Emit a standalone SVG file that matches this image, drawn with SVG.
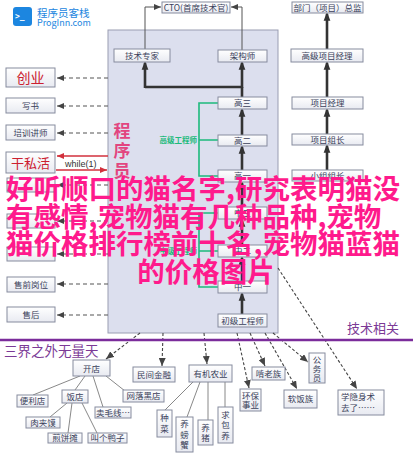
<svg xmlns="http://www.w3.org/2000/svg" width="415" height="454" viewBox="0 0 415 454">
<defs>
<linearGradient id="bg" x1="0" y1="0" x2="0" y2="1"><stop offset="0" stop-color="#ffffff"/><stop offset="1" stop-color="#e8eaf1"/></linearGradient>
<marker id="thick" markerWidth="9" markerHeight="12" refX="9" refY="4.5" orient="auto" markerUnits="userSpaceOnUse" viewBox="0 0 12 9"><path d="M0,0 L12,4.5 L0,9 z" fill="#333"/></marker>
<marker id="thin" markerWidth="7" markerHeight="6" refX="7" refY="3" orient="auto" markerUnits="userSpaceOnUse" viewBox="0 0 7 6"><path d="M0,0 L7,3 L0,6 z" fill="#444"/></marker>
<marker id="red" markerWidth="7" markerHeight="6" refX="7" refY="3" orient="auto" markerUnits="userSpaceOnUse" viewBox="0 0 7 6"><path d="M0,0 L7,3 L0,6 z" fill="#d2303c"/></marker>
<marker id="dash" markerWidth="8" markerHeight="7" refX="8" refY="3.5" orient="auto" markerUnits="userSpaceOnUse" viewBox="0 0 8 7"><path d="M0,0 L8,3.5 L0,7 z" fill="#444"/></marker>
</defs>
<style>
text{font-family:"Noto Sans CJK SC","Noto Sans",sans-serif;}
.b{fill:url(#bg);stroke:#868b9e;stroke-width:1;}
.t{font-size:8.5px;fill:#3a3f5a;text-anchor:middle;}
.tk{fill:none;stroke:#333;stroke-width:2.6;}
.dl{fill:none;stroke:#555;stroke-width:1.1;stroke-dasharray:4,3;marker-end:url(#thin);}
.dd{fill:none;stroke:#444;stroke-width:1.1;stroke-dasharray:3,2;marker-end:url(#dash);}
.sl{fill:none;stroke:#7a7a7a;stroke-width:0.9;}
.gr{fill:none;stroke:#1dba7c;stroke-width:1.6;}
.gt{font-size:7.5px;fill:#1dba7c;font-weight:bold;text-anchor:end;}
.pg{font-size:17px;fill:#e2457f;font-weight:bold;text-anchor:middle;}
.ov{font-size:27.5px;fill:#ff1a8c;font-weight:bold;}
</style>
<rect width="415" height="454" fill="#ffffff"/>

<g id="logo">
<rect x="13" y="7" width="19" height="19" rx="3" fill="#1c86e0"/>
<text x="15" y="19" font-size="8" font-weight="bold" fill="#ffffff" style="font-family:'DejaVu Sans Mono',monospace">&gt;_</text>
<text x="37" y="17" font-size="10.5" fill="#1c86e0">程序员客栈</text>
<text x="37" y="26" font-size="9" fill="#1c86e0">ProgInn.com</text>
</g>

<g id="panel"><rect x="108" y="30" width="170" height="303" fill="#dcdfee" stroke="#9a9db2" stroke-width="1"/></g>

<g id="connectors">
<path d="M145,49 V7 H161" fill="none" stroke="#555" stroke-width="1" marker-end="url(#thin)"/>
<path d="M242,50 V7 H231" fill="none" stroke="#555" stroke-width="1" marker-end="url(#thin)"/>
<path class="tk" d="M242,97 V87 M145,87 H242"/>
<path class="tk" d="M145,88 V63" marker-end="url(#thick)"/>
<path class="tk" d="M242,88 V63" marker-end="url(#thick)"/>
<path class="tk" d="M242,135 V110" marker-end="url(#thick)"/>
<path class="tk" d="M242,170 V147" marker-end="url(#thick)"/>
<path class="tk" d="M242,207 V183" marker-end="url(#thick)"/>
<path class="tk" d="M242,245 V220" marker-end="url(#thick)"/>
<path class="tk" d="M242,281 V258" marker-end="url(#thick)"/>
<path class="tk" d="M242,314 V294" marker-end="url(#thick)"/>
<path class="tk" d="M327,49 V14" marker-end="url(#thick)"/>
<path class="tk" d="M327,97 V63" marker-end="url(#thick)"/>
<path class="tk" d="M327,134 V110" marker-end="url(#thick)"/>
<path class="tk" d="M327,170 V146" marker-end="url(#thick)"/>
<path class="gr" d="M218,103 H199 V176 H218 M199,140 H218"/>
<path class="gr" d="M218,213 H199 V287 H218 M199,251 H218"/>
<path class="dl" d="M108,78 H57"/>
<path class="dl" d="M108,106 H57"/>
<path class="dl" d="M108,133 H57"/>
<path class="dl" d="M108,185 H57"/>
<path class="dl" d="M108,221 H57"/>
<path class="dl" d="M108,254 H57"/>
<path class="dl" d="M108,284 H57"/>
<path class="dl" d="M108,315 H57"/>
<path d="M108,156 H57" fill="none" stroke="#d2303c" stroke-width="1.4" marker-end="url(#red)"/>
<path d="M56,170 H107" fill="none" stroke="#d2303c" stroke-width="1.4" marker-end="url(#red)"/>
<path class="sl" d="M80,376 L33,395 M85,376 L75,390 M93,376 L103,407 M106,376 L125,391"/>
<path class="sl" d="M67,403 L50,417 M72,403 L68,433 M82,403 L97,433"/>
<path class="sl" d="M193,382 L165,410 M200,382 L187,417 M208,382 L208,420 M225,382 L225,407"/>
<path class="dd" d="M140,333 L106,359"/>
<path class="dd" d="M163,333 L162,366"/>
<path class="dd" d="M204,333 L207,364"/>
<path class="dd" d="M237,333 L249,388"/>
<path class="dd" d="M250,333 L265,366"/>
<path class="dd" d="M273,333 L308,362"/>
<path class="dd" d="M265,333 L297,389"/>
<path class="dd" d="M278,268 L357,389"/>
</g>

<g id="cto"><rect class="b" x="162" y="2" width="68" height="11"/><text class="t" x="196" y="10.5" font-size="8">CTO(首席技术官)</text></g>
<g id="director"><rect class="b" x="292" y="2" width="71" height="11"/><text class="t" x="327.5" y="10.5">部门（项目）总监</text></g>
<g id="expert"><rect class="b" x="114" y="49" width="56" height="13"/><text class="t" x="142" y="58.5">技术专家</text></g>
<g id="architect"><rect class="b" x="218" y="50" width="49" height="12"/><text class="t" x="242.5" y="59">架构师</text></g>
<g id="spm"><rect class="b" x="291" y="49" width="72" height="13"/><text class="t" x="327" y="58.5">高级项目经理</text></g>
<g id="g3"><rect class="b" x="218" y="97" width="49" height="12"/><text class="t" x="242.5" y="106">高三</text></g>
<g id="pm"><rect class="b" x="292" y="97" width="71" height="12"/><text class="t" x="327.5" y="106">项目经理</text></g>
<g id="g2"><rect class="b" x="218" y="135" width="49" height="11"/><text class="t" x="242.5" y="143.5">高二</text></g>
<g id="pl"><rect class="b" x="292" y="134" width="71" height="11"/><text class="t" x="327.5" y="142.5">项目组长</text></g>
<g id="g1"><rect class="b" x="218" y="170" width="49" height="12"/><text class="t" x="242.5" y="179">高一</text></g>
<g id="tl"><rect class="b" x="292" y="170" width="71" height="11"/><text class="t" x="327.5" y="178.5">小组组长</text></g>
<g id="m3"><rect class="b" x="218" y="207" width="49" height="12"/><text class="t" x="242.5" y="216">中三</text></g>
<g id="m2"><rect class="b" x="218" y="245" width="49" height="12"/><text class="t" x="242.5" y="254">中二</text></g>
<g id="m1"><rect class="b" x="218" y="281" width="49" height="12"/><text class="t" x="242.5" y="290">中一</text></g>
<g id="junior"><rect class="b" x="218" y="314" width="49" height="13"/><text class="t" x="242.5" y="323.5">初级工程师</text></g>
<g id="senior-label"><text class="gt" x="197" y="142.5">高级工程师</text></g>
<g id="mid-label"><text class="gt" x="197" y="253.5">中级工程师</text></g>
<g id="prog"><text class="pg" x="122" y="137">程</text><text class="pg" x="122" y="157">序</text><text class="pg" x="122" y="177">员</text></g>

<g id="startup"><rect class="b" x="6" y="68" width="49" height="19"/><text x="30.5" y="82.5" font-size="14" fill="#cc2030" text-anchor="middle">创业</text></g>
<g id="book"><rect class="b" x="6" y="98" width="49" height="15"/><text class="t" x="30.5" y="108.5">写书</text></g>
<g id="trainer"><rect class="b" x="6" y="125" width="49" height="15"/><text class="t" x="30.5" y="135.5">培训讲师</text></g>
<g id="side"><rect class="b" x="6" y="152" width="49" height="21"/><text x="30.5" y="167.5" font-size="13" fill="#cc2030" text-anchor="middle">干私活</text></g>
<g id="while"><text x="65" y="167" font-size="9" fill="#333" style="font-family:'Liberation Sans',sans-serif">while(1)</text></g>
<g id="left-a"><rect class="b" x="7" y="178" width="48" height="14"/></g>
<g id="left-b"><rect class="b" x="7" y="214" width="48" height="14"/></g>
<g id="left-c"><rect class="b" x="7" y="247" width="48" height="14"/></g>
<g id="presale"><rect class="b" x="7" y="277" width="48" height="15"/><text class="t" x="31" y="287.5">售前岗位</text></g>
<g id="aftersale"><rect class="b" x="7" y="307" width="48" height="15"/><text class="t" x="31" y="317.5">售后</text></g>

<g id="divider"><line x1="0" y1="340" x2="413" y2="340" stroke="#7b2c9b" stroke-width="2.5"/>
<text x="4" y="356" font-size="13.5" fill="#7b3a96">三界之外无量天</text>
<text x="347" y="333" font-size="13" fill="#7b3a96">技术相关</text></g>

<g id="shop"><rect class="b" x="73" y="360" width="37" height="16"/><text class="t" x="91.5" y="371.5">开店</text></g>
<g id="conv"><rect class="b" x="17" y="395" width="31" height="12"/><text class="t" x="32.5" y="404">便利店</text></g>
<g id="rest"><rect class="b" x="62" y="390" width="26" height="13"/><text class="t" x="75" y="399.5">饭店</text></g>
<g id="rjm"><rect class="b" x="26" y="417" width="34" height="11"/><text class="t" x="43" y="425.5">肉夹馍</text></g>
<g id="jbt"><rect class="b" x="48" y="433" width="34" height="10"/><text class="t" x="65" y="441">煎饼摊</text></g>
<g id="duck"><rect class="b" x="88" y="433" width="39" height="10"/><text class="t" x="107.5" y="441">叫个鸭子</text></g>
<g id="yarn"><rect class="b" x="95" y="407" width="36" height="11"/><text class="t" x="113" y="415.5">卖毛线…</text></g>
<g id="blackshop"><rect class="b" x="123" y="390" width="41" height="12"/><text class="t" x="143.5" y="399">网落黑店</text></g>
<g id="finance"><rect class="b" x="133" y="367" width="42" height="15"/><text class="t" x="154" y="377.5">民间金融</text></g>
<g id="organic"><rect class="b" x="189" y="365" width="43" height="17"/><text class="t" x="210.5" y="376.5">有机农业</text></g>
<g id="veg"><rect class="b" x="157" y="410" width="15" height="27"/><text class="t" x="164.5" y="421">种</text><text class="t" x="164.5" y="432">菜</text></g>
<g id="crab"><rect class="b" x="176" y="417" width="17" height="35"/><text class="t" x="184.5" y="427">养</text><text class="t" x="184.5" y="437.5">螃</text><text class="t" x="184.5" y="448">蟹</text></g>
<g id="pig"><rect class="b" x="198" y="420" width="15" height="25"/><text class="t" x="205.5" y="431">养</text><text class="t" x="205.5" y="441">猪</text></g>
<g id="kept"><rect class="b" x="218" y="407" width="15" height="36"/><text class="t" x="225.5" y="417.5">求</text><text class="t" x="225.5" y="428">包</text><text class="t" x="225.5" y="438.5">养</text></g>
<g id="env"><rect class="b" x="240" y="389" width="21" height="22"/><text class="t" x="250.5" y="398.5">环保</text><text class="t" x="250.5" y="408">事业</text></g>
<g id="parents"><rect class="b" x="252" y="367" width="33" height="13"/><text class="t" x="268.5" y="376.5">啃老族</text></g>
<g id="civil"><rect class="b" x="309" y="353" width="16" height="30"/><text class="t" x="317" y="362.5">公</text><text class="t" x="317" y="372">务</text><text class="t" x="317" y="381">员</text></g>
<g id="softrice"><rect class="b" x="284" y="390" width="33" height="18"/><text class="t" x="300.5" y="402">软饭族</text></g>
<g id="invisible"><rect class="b" x="338" y="390" width="46" height="25"/><text class="t" x="341" y="400" style="text-anchor:start">学隐身术</text><text class="t" x="341" y="411" style="text-anchor:start">去了……</text></g>

<g id="overlay">
<text class="ov" x="6" y="199">好听顺口的猫名字,研究表明猫没</text>
<text class="ov" x="6" y="226.5">有感情,宠物猫有几种品种,宠物</text>
<text class="ov" x="6" y="254">猫价格排行榜前十名,宠物猫蓝猫</text>
<text class="ov" x="206" y="281.5" text-anchor="middle">的价格图片</text>
</g>
</svg>
